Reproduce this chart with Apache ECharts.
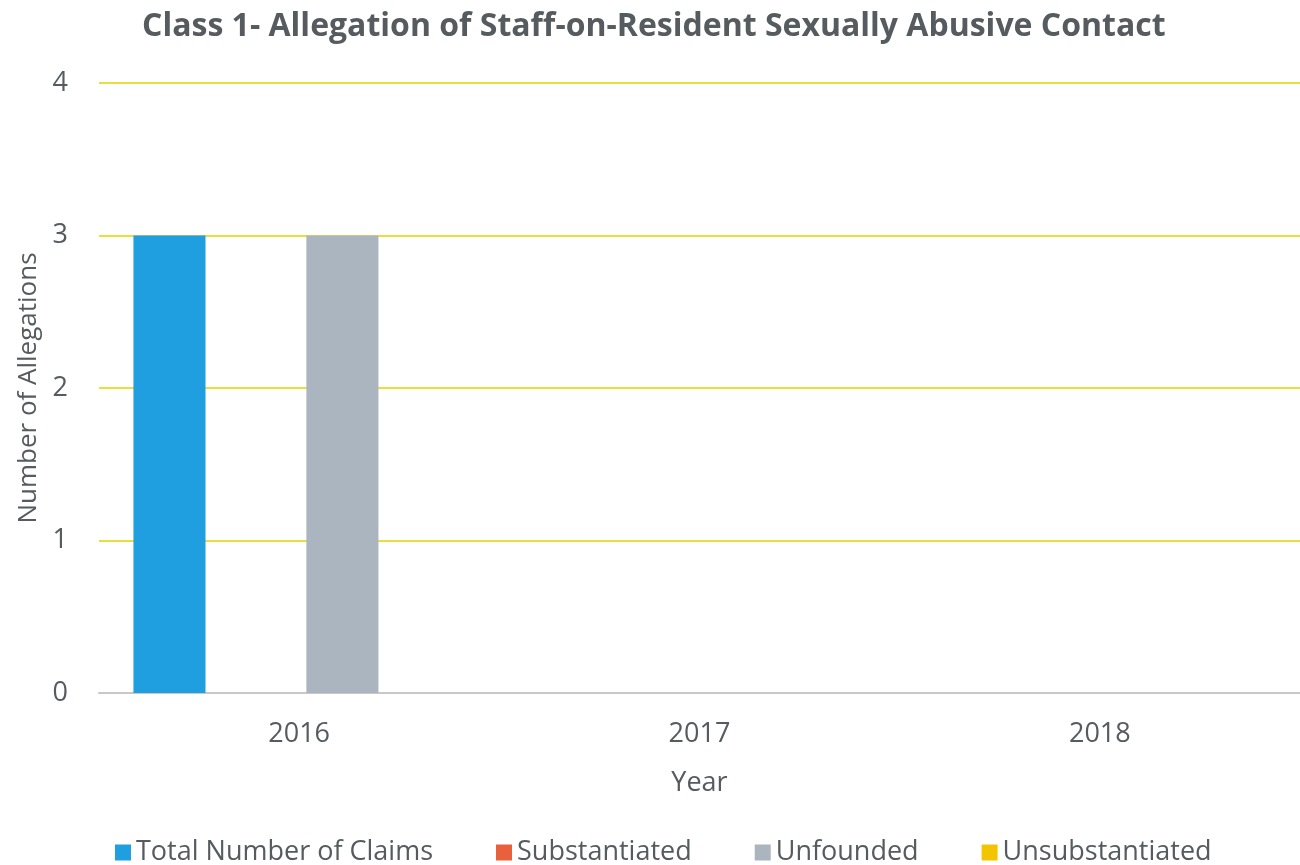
<!DOCTYPE html>
<html><head><meta charset="utf-8">
<script src="https://cdn.jsdelivr.net/npm/echarts@6/dist/echarts.min.js"></script>
<style>html,body{margin:0;padding:0;background:#fff}#c{width:1300px;height:865px}</style>
</head><body><div id="c"></div>
<script>
const categories = ['2016', '2017', '2018'];
const totalClaims = [3, 0, 0];
const substantiated = [0, 0, 0];
const unfounded = [3, 0, 0];
const unsubstantiated = [0, 0, 0];
const yTicks = [0, 1, 2, 3, 4];

const chart = echarts.init(document.getElementById('c'));
const font = '"Open Sans", "DejaVu Sans", sans-serif';
function bar(name, data, color) {
  return { name, type: 'bar', data, barWidth: '18%', barGap: '20%',
    itemStyle: { color }, emphasis: { disabled: true } };
}
chart.setOption({
  animation: false,
  textStyle: { fontFamily: font },
  title: { text: 'Class 1- Allegation of Staff-on-Resident Sexually Abusive Contact',
    left: 137, top: 6,
    textStyle: { fontFamily: font, fontSize: 32, fontWeight: 'bold', color: '#555b5e' } },
  grid: { left: 99, right: 0, top: 83, bottom: 172 },
  legend: { bottom: -6, left: 110, itemWidth: 16, itemHeight: 16, itemGap: 63,
    icon: 'rect', textStyle: { fontSize: 27, color: '#555b5e' },
    data: ['Total Number of Claims', 'Substantiated', 'Unfounded', 'Unsubstantiated'] },
  xAxis: { type: 'category', data: categories, name: 'Year', nameLocation: 'middle', nameGap: 77,
    nameTextStyle: { fontSize: 27, color: '#555b5e' },
    axisLine: { lineStyle: { color: '#c8c8c8', width: 2 } }, axisTick: { show: false },
    axisLabel: { fontSize: 27, color: '#555b5e', margin: 28 } },
  yAxis: { type: 'value', min: 0, max: 4, interval: 1, name: 'Number of Allegations',
    nameLocation: 'middle', nameGap: 56, nameTextStyle: { fontSize: 26, color: '#555b5e' },
    axisLabel: { fontSize: 27, color: '#555b5e', margin: 31,
      formatter: v => yTicks.includes(v) ? String(v) : '' },
    splitLine: { lineStyle: { color: '#e9df3c', width: 2 } },
    axisLine: { show: false }, axisTick: { show: false } },
  series: [
    bar('Total Number of Claims', totalClaims, '#1f9ee0'),
    bar('Substantiated', substantiated, '#e8603c'),
    bar('Unfounded', unfounded, '#aab5c0'),
    bar('Unsubstantiated', unsubstantiated, '#f2c500')
  ]
});
</script></body></html>
